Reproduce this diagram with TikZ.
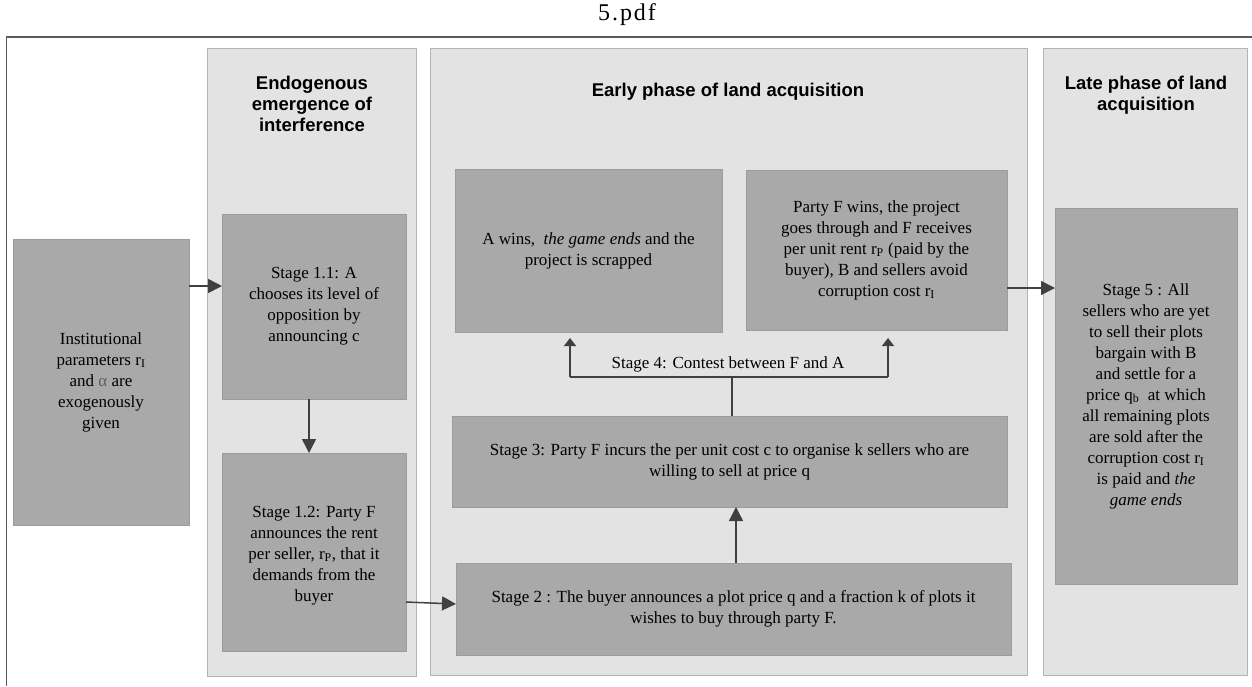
\documentclass[tikz,border=0pt]{standalone}
\usepackage{fontspec}
\setmainfont{Liberation Serif}
\newfontfamily\hdrfont{Liberation Sans}
\newfontfamily\titlefont[LetterSpace=8]{Liberation Serif}
\usetikzlibrary{arrows.meta}
\definecolor{panelfill}{HTML}{E3E3E3}
\definecolor{paneldraw}{HTML}{B4B4B4}
\definecolor{boxfill}{HTML}{A9A9A9}
\definecolor{boxdraw}{HTML}{9C9C9C}
\definecolor{arrcol}{HTML}{404040}
\definecolor{framecol}{HTML}{5A5A5A}
\newcommand{\sbs}[1]{\textsubscript{#1}}
\tikzset{
  panel/.style={fill=panelfill,draw=paneldraw,line width=1pt,inner sep=0pt,outer sep=0pt},
  gbox/.style={fill=boxfill,draw=boxdraw,line width=0.8pt,inner sep=0pt,outer sep=0pt,
    align=center,font=\fontsize{17}{21}\selectfont,text=black},
  hdr/.style={align=center,font=\hdrfont\bfseries\fontsize{18.5}{21}\selectfont,inner sep=0pt},
  lbl/.style={font=\fontsize{17}{21}\selectfont,inner sep=0pt},
  arr/.style={draw=arrcol,line width=1.5pt,-{Triangle[length=14pt,width=14pt]},arrcol},
  arrs/.style={draw=arrcol,line width=1.5pt,-{Triangle[length=8pt,width=12pt]},arrcol},
  conn/.style={draw=arrcol,line width=1.5pt}
}
\begin{document}
\begin{tikzpicture}[x=1pt,y=-1pt]
\useasboundingbox (0,0) rectangle (1252,686);
% title and frame
\node[font=\titlefont\fontsize{24}{26}\selectfont,inner sep=0pt,anchor=base] (title) at (627,20) {5.pdf};
\coordinate (ftl) at (6.5,37);
\coordinate (ftr) at (1252,37);
\coordinate (fbl) at (6.5,686);
\draw[framecol,line width=1.5pt] (ftr) -- (ftl) -- (fbl);
% panels
\node[panel,minimum width=209pt,minimum height=628pt] (p1) at (311.5,362) {};
\node[panel,minimum width=597pt,minimum height=627pt] (p2) at (728.5,361.5) {};
\node[panel,minimum width=204pt,minimum height=627pt] (p3) at (1145,361.5) {};
% headers
\node[hdr] (h1) at (312,104) {Endogenous\\emergence of\\interference};
\node[hdr] (h2) at (728,92) {Early phase of land acquisition};
\node[hdr] (h3) at (1146,95) {Late phase of land\\acquisition};
% boxes
\node[gbox,minimum width=176pt,minimum height=286pt] (inst) at (101,382)
  {Institutional\\parameters r\sbs{I}\\and {\color[HTML]{5E5E5E}α} are\\exogenously\\given};
\node[gbox,minimum width=184pt,minimum height=185pt] (s11) at (314,306.5)
  {Stage 1.1: A\\chooses its level of\\opposition by\\announcing c};
\node[gbox,minimum width=184pt,minimum height=198pt] (s12) at (314,552)
  {\\[-3pt]Stage 1.2: Party F\\announces the rent\\per seller, r\sbs{P}, that it\\demands from the\\buyer};
\node[gbox,minimum width=267pt,minimum height=163pt] (awin) at (588.5,250.5)
  {A wins,\ \ \emph{the game ends} and the\\project is scrapped};
\node[gbox,minimum width=261pt,minimum height=160pt] (fwin) at (876.5,250)
  {Party F wins, the project\\goes through and F receives\\per unit rent r\sbs{P} (paid by the\\buyer), B and sellers avoid\\corruption cost r\sbs{I}};
\node[gbox,minimum width=555pt,minimum height=91pt] (s3) at (729.5,461.5)
  {Stage 3: Party F incurs the per unit cost c to organise k sellers who are\\willing to sell at price q};
\node[gbox,minimum width=555pt,minimum height=92pt] (s2) at (733.5,609)
  {Stage 2 : The buyer announces a plot price q and a fraction k of plots it\\wishes to buy through party F.};
\node[gbox,minimum width=182pt,minimum height=376pt] (s5) at (1146,396)
  {Stage 5 : All\\sellers who are yet\\to sell their plots\\bargain with B\\and settle for a\\price q\sbs{b}\ \ at which\\all remaining plots\\are sold after the\\corruption cost r\sbs{I}\\is paid and \emph{the}\\\emph{game ends}};
% stage 4 label
\node[lbl,anchor=base] (s4) at (728,368) {Stage 4: Contest between F and A};
% connectors
\draw[arr] (inst.east |- 0,286) -- (s11.west |- 0,286);
\draw[arr] (s11.south -| 309,0) -- (s12.north -| 309,0);
\draw[arr] (s12.east |- 0,602) -- (s2.west |- 0,604);
\draw[arr] (s2.north -| 736,0) -- (s3.south -| 736,0);
\coordinate (split) at (732,377);
\coordinate (splitL) at (570,377);
\coordinate (splitR) at (888,377);
\draw[conn] (s3.north -| split) -- (split);
\draw[conn] (splitL) -- (splitR);
\draw[arrs,shorten >=6pt] (splitL) -- (awin.south -| splitL);
\draw[arrs,shorten >=8pt] (splitR) -- (fwin.south -| splitR);
\draw[arr] (fwin.east |- 0,288) -- (s5.west |- 0,288);
\end{tikzpicture}
\end{document}
